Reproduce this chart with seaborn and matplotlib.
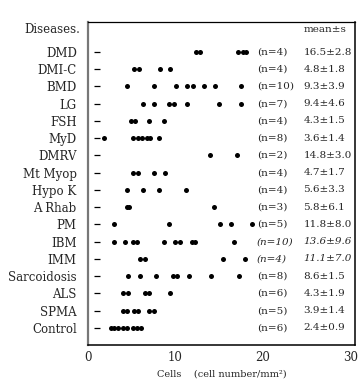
import pandas as pd
import seaborn as sns
import matplotlib
matplotlib.use("Agg")
import matplotlib.pyplot as plt

diseases = ["DMD", "DMI-C", "BMD", "LG", "FSH", "MyD", "DMRV", "Mt Myop",
            "Hypo K", "A Rhab", "PM", "IBM", "IMM", "Sarcoidosis", "ALS",
            "SPMA", "Control"]
cells = [
    [12.3, 12.8, 17.1, 17.7, 18.1],
    [5.3, 5.8, 8.2, 9.4],
    [4.5, 7.6, 10.1, 11.3, 12.0, 13.3, 14.5, 17.5],
    [6.3, 7.6, 9.3, 9.8, 11.3, 15.0, 17.5],
    [4.9, 5.4, 7.0, 8.7],
    [1.8, 5.2, 5.7, 6.2, 6.7, 7.1, 8.1],
    [13.9, 17.0],
    [5.2, 5.7, 7.5, 8.8],
    [4.5, 6.3, 8.1, 11.2],
    [4.5, 4.7, 14.4],
    [3.0, 9.3, 15.1, 16.3, 18.7],
    [3.0, 4.3, 5.1, 5.6, 8.7, 10.0, 10.5, 11.9, 12.2, 16.7],
    [5.9, 6.5, 15.4, 17.9],
    [4.6, 5.9, 7.8, 9.7, 10.2, 11.6, 14.1, 17.3],
    [4.0, 4.6, 6.5, 7.0, 9.4],
    [4.0, 4.5, 5.3, 5.7, 7.0, 7.6],
    [2.6, 3.0, 3.5, 4.0, 4.5, 5.1, 5.6, 6.1],
]
n_labels = ["(n=4)", "(n=4)", "(n=10)", "(n=7)", "(n=4)", "(n=8)", "(n=2)",
            "(n=4)", "(n=4)", "(n=3)", "(n=5)", "(n=10)", "(n=4)", "(n=8)",
            "(n=6)", "(n=5)", "(n=6)"]
means = ["16.5±2.8", "4.8±1.8", "9.3±3.9", "9.4±4.6", "4.3±1.5", "3.6±1.4",
         "14.8±3.0", "4.7±1.7", "5.6±3.3", "5.8±6.1", "11.8±8.0", "13.6±9.6",
         "11.1±7.0", "8.6±1.5", "4.3±1.9", "3.9±1.4", "2.4±0.9"]
x_ticks = [0, 10, 20, 30]

rows = []
for d, vals in zip(diseases, cells):
    for v in vals:
        rows.append({"disease": d, "cells": v})
df = pd.DataFrame(rows)

sns.set_style("white")
plt.rcParams["font.family"] = ["DejaVu Serif"]

fig = plt.figure(figsize=(3.6, 3.84), dpi=100)
ax = fig.add_axes([0.244, 0.1016, 0.742, 0.8411])

sns.stripplot(data=df, x="cells", y="disease", order=diseases, jitter=False,
              color="black", size=3.6, linewidth=0, ax=ax)

# little dash at the start of every row
ax.scatter([1.0] * len(diseases), range(len(diseases)), marker="_",
           color="black", s=18, linewidths=0.9)

for i, (nl, m) in enumerate(zip(n_labels, means)):
    style = "italic" if i in (11, 12) else "normal"
    ax.text(19.3, i, nl, fontsize=7.5, va="center", ha="left", style=style)
    ax.text(24.6, i, m, fontsize=7.5, va="center", ha="left", style=style)

ax.text(24.6, -1.28, "mean±s", fontsize=7.5, va="center", ha="left")
ax.text(-0.03, -1.28, "Diseases.", fontsize=8.5, va="center", ha="right",
        transform=ax.get_yaxis_transform())

ax.set_xlim(0, 30.5)
ax.set_ylim(16.99, -1.74)
ax.set_xticks(x_ticks)
ax.set_xticklabels([str(t) for t in x_ticks], fontsize=8.5)
ax.tick_params(axis="x", direction="in", length=7, width=0.8, pad=4)
ax.tick_params(axis="y", length=0, pad=8, labelsize=8.5)
ax.set_ylabel("")
ax.set_xlabel("Cells    (cell number/mm²)", fontsize=7, labelpad=4)
for s in ax.spines.values():
    s.set_color("black")
    s.set_linewidth(1.1)
ax.spines["top"].set_linewidth(0.9)
ax.spines["left"].set_color("#777777")
ax.spines["left"].set_linewidth(1.6)

fig.savefig("out.png", dpi=100)
